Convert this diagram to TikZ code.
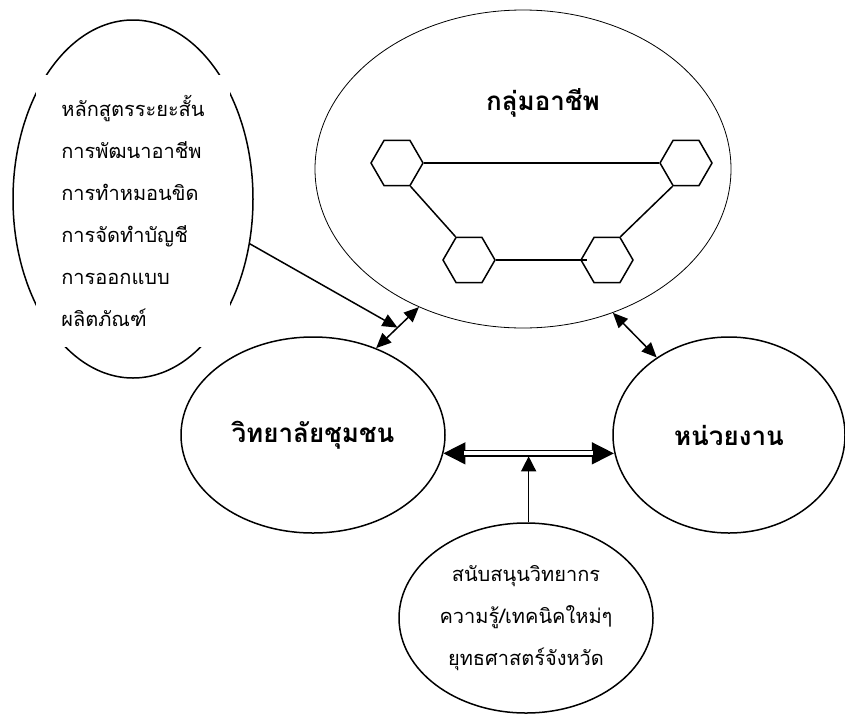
\documentclass[tikz,border=0pt]{standalone}
\usepackage{fontspec}
\newfontfamily\thai[Script=Thai]{Loma}
\usetikzlibrary{shapes.geometric,arrows.meta,calc}

\begin{document}
\begin{tikzpicture}[x=1pt,y=-1pt,
    oval/.style={draw,ellipse,line width=1.5pt,inner sep=0pt},
    hexa/.style={draw,regular polygon,regular polygon sides=6,minimum size=52pt,inner sep=0pt,line width=1.5pt},
    link/.style={line width=1.5pt},
    tip/.style={-{Triangle[length=15pt,width=13pt]}},
    both/.style={{Triangle[length=15pt,width=13pt]}-{Triangle[length=15pt,width=13pt]}},
    title/.style={font=\thai\bfseries\fontsize{26}{30}\selectfont},
    body/.style={font=\thai\fontsize{20}{42}\selectfont}]
    \useasboundingbox (0,0) rectangle (845,715);
    \node[oval,line width=0.8pt,minimum width=416pt,minimum height=318pt] (group) at (523,169) {};
    \node[title] (grouptitle) at (543,103) {กลุ่มอาชีพ};
    \node[hexa] (h1) at (397,163) {};
    \node[hexa] (h2) at (686,163) {};
    \node[hexa] (h3) at (469,260) {};
    \node[hexa] (h4) at (607,260) {};
    \draw[link] (h1.east) -- (h2.west);
    \draw[link] (h1.-60) -- (h3.120);
    \draw[link] (h3.east) -- ([xshift=7pt]h4.west);
    \draw[link] (h2.-120) -- (h4.60);
    \node[oval,minimum width=240pt,minimum height=358pt] (courses) at (133,199) {};
    \node[body,fill=white,minimum width=194pt,minimum height=272pt,inner sep=0pt,align=left] (courselist) at (133,211)
        {หลักสูตรระยะสั้น\\การพัฒนาอาชีพ\\การทำหมอนขิด\\การจัดทำบัญชี\\การออกแบบ\\ผลิตภัณฑ์};
    \node[oval,title,minimum width=264pt,minimum height=196pt] (college) at (313,435) {วิทยาลัยชุมชน};
    \node[oval,title,minimum width=232pt,minimum height=196pt] (agency) at (729,435) {หน่วยงาน};
    \node[oval,body,align=center,minimum width=254pt,minimum height=190pt] (support) at (526,618)
        {สนับสนุนวิทยากร\\ความรู้/เทคนิคใหม่ๆ\\ยุทธศาสตร์จังหวัด};
    \coordinate (s1) at (college.54);
    \coordinate (s2) at (group.233);
    \coordinate (join) at ($(s1)!0.5!(s2)$);
    \draw[link,both] (s1) -- (s2);
    \draw[link,tip] (courses.339) -- (join);
    \draw[link,both] (group.302) -- (agency.133);
    \coordinate (dl) at (college.-8);
    \coordinate (dr) at (dl -| agency.188);
    \coordinate (hub) at ($(dl)!0.5!(dr)$);
    \draw[link,{Triangle[length=22pt,width=22pt]}-{Triangle[length=22pt,width=22pt]}] (dl) -- (dr);
    \draw[link,double,double distance=4pt,shorten <=21pt,shorten >=21pt] (dl) -- (dr);
    \draw[link,-{Triangle[length=15pt,width=15pt]}] (support.north -| hub) -- ([yshift=-3pt]hub);
\end{tikzpicture}
\end{document}
